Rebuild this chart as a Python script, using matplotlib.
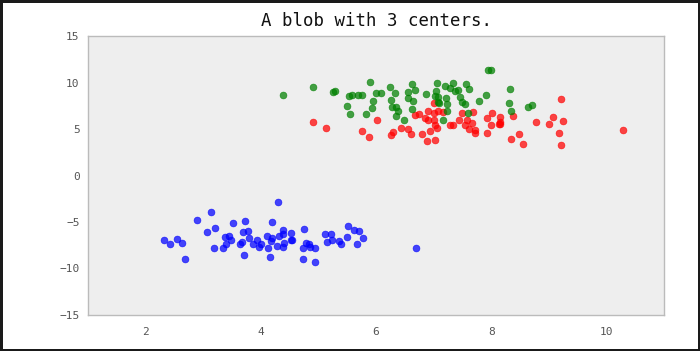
import matplotlib
matplotlib.use('Agg')
import matplotlib.pyplot as plt

# points, one list per blob
blue_x = [2.32, 2.42, 2.54, 2.63, 2.68, 2.90, 3.13, 3.07, 3.21, 3.19, 3.52, 3.37, 3.44,
          3.48, 3.40, 3.35, 3.72, 3.69, 3.78, 3.68, 3.64, 3.70, 3.79, 4.29, 4.19, 3.93,
          3.86, 4.01, 3.97, 4.11, 4.20, 4.17, 4.13, 4.16, 4.28, 4.31, 4.39, 4.38, 4.41,
          4.39, 4.52, 4.55, 4.53, 4.75, 4.78, 4.84, 4.85, 4.73, 4.94, 4.74, 4.94, 5.11,
          5.22, 5.24, 5.15, 5.36, 5.40, 5.52, 5.62, 5.70, 5.50, 5.77, 5.67, 6.69]
blue_y = [-6.91, -7.41, -6.80, -7.31, -9.00, -4.75, -3.97, -6.05, -5.61, -7.81, -5.12, -6.58, -6.52,
          -6.95, -7.41, -7.77, -4.94, -6.05, -6.01, -7.20, -7.41, -8.52, -6.73, -2.89, -5.04, -6.95,
          -7.38, -7.41, -7.70, -6.48, -6.73, -7.06, -7.81, -8.78, -7.63, -6.52, -5.91, -6.26, -7.31,
          -7.70, -6.20, -6.91, -6.98, -5.80, -7.27, -7.41, -7.70, -7.81, -7.81, -8.96, -9.32, -6.26,
          -6.26, -6.98, -7.20, -7.06, -7.41, -5.40, -5.87, -5.98, -6.58, -6.69, -7.41, -7.84]

green_x = [4.38, 4.90, 5.26, 5.29, 5.90, 5.53, 5.58, 5.68, 5.75, 6.00, 6.08, 5.94, 5.49,
           5.93, 5.54, 5.83, 7.94, 8.00, 6.25, 6.33, 6.26, 6.28, 6.34, 6.39, 6.35, 6.48,
           6.63, 6.67, 6.56, 6.56, 6.64, 6.63, 6.86, 7.06, 7.05, 7.03, 7.08, 7.19, 7.28,
           7.34, 7.37, 7.42, 7.46, 7.50, 7.54, 7.57, 7.61, 7.21, 7.24, 7.24, 7.07, 7.10,
           7.17, 7.79, 7.91, 7.60, 8.33, 8.31, 8.34, 8.63, 8.70]
green_y = [8.61, 9.54, 9.00, 9.06, 10.08, 8.50, 8.61, 8.67, 8.67, 8.89, 8.83, 8.03, 7.49,
           7.27, 6.56, 6.63, 11.34, 11.34, 9.50, 8.86, 8.07, 7.38, 7.42, 6.95, 6.41, 5.92,
           9.80, 9.21, 8.97, 8.32, 7.96, 7.17, 8.78, 9.97, 9.07, 8.53, 8.39, 9.64, 9.36,
           9.94, 9.07, 9.21, 8.39, 7.89, 7.70, 9.80, 9.29, 8.35, 7.64, 6.95, 7.89, 7.78,
           5.95, 8.03, 8.64, 6.73, 9.32, 7.75, 6.92, 7.38, 7.53]

red_x = [4.91, 5.13, 6.01, 5.75, 5.87, 7.00, 6.68, 6.75, 6.91, 6.85, 6.91, 7.00, 7.07,
         7.17, 7.01, 7.03, 7.06, 7.28, 7.33, 7.49, 7.69, 7.44, 7.55, 7.58, 7.66, 7.62,
         7.72, 7.71, 7.93, 8.01, 8.00, 7.93, 6.26, 6.29, 6.44, 6.56, 6.60, 6.80, 6.93,
         6.89, 7.03, 8.16, 8.15, 8.14, 8.15, 8.37, 8.78, 9.22, 9.07, 9.00, 9.25, 9.18,
         9.21, 8.48, 8.35, 8.55, 10.28]
red_y = [5.73, 5.12, 5.95, 4.76, 4.19, 7.75, 6.49, 6.59, 6.95, 6.13, 6.02, 6.67, 6.95,
         6.81, 5.95, 5.48, 5.12, 5.41, 5.41, 6.73, 6.81, 5.92, 5.41, 6.02, 5.66, 4.95,
         4.87, 4.58, 6.13, 6.67, 5.41, 4.58, 4.33, 4.66, 5.09, 5.05, 4.51, 4.44, 4.76,
         3.69, 3.79, 6.30, 5.70, 5.55, 5.52, 6.41, 5.73, 8.24, 6.30, 5.59, 5.81, 4.62,
         3.33, 4.44, 3.90, 3.44, 4.84]

title = 'A blob with 3 centers.'


def plot():
    fig = plt.figure(figsize=(7.0, 3.51), dpi=100)
    fig.patch.set_facecolor('white')
    fig.patch.set_edgecolor('#1a1a1a')
    fig.patch.set_linewidth(2.5)
    ax = fig.add_axes([0.1257, 0.1026, 0.8229, 0.7948])
    ax.set_facecolor('#eeeeee')

    for xs, ys, c in [(red_x, red_y, '#ff0000'), (green_x, green_y, '#008000'), (blue_x, blue_y, '#0000ff')]:
        ax.scatter(xs, ys, s=24, color=c, alpha=0.72, edgecolors=c, linewidths=0.5, zorder=3)

    ax.set_xlim(1, 11)
    ax.set_ylim(-15, 15)
    ax.set_xticks([2, 4, 6, 8, 10])
    ax.set_yticks([-15, -10, -5, 0, 5, 10, 15])
    for sp in ax.spines.values():
        sp.set_color('#bbbbbb')
        sp.set_linewidth(1)
    ax.tick_params(length=0, labelsize=8, labelcolor='#555555', pad=6)
    for lab in ax.get_xticklabels() + ax.get_yticklabels():
        lab.set_family('DejaVu Sans Mono')
    ax.tick_params(axis='x', pad=9)
    ax.set_title(title, family='DejaVu Sans Mono', fontsize=12.5, color='#111111', pad=7)

    fig.savefig('out.png', dpi=100, edgecolor=fig.get_edgecolor())


if __name__ == '__main__':
    plot()
